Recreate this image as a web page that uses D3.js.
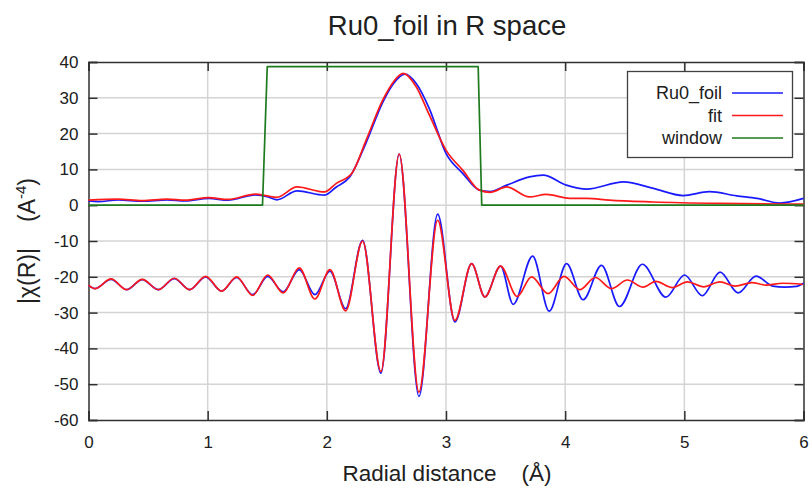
<!DOCTYPE html>
<html>
<head>
<meta charset="utf-8">
<script src="https://cdn.jsdelivr.net/npm/d3@7"></script>
<style>
  html, body { margin: 0; padding: 0; background: #fff; }
  svg { display: block; font-family: "Liberation Sans", Arial, sans-serif; }
</style>
</head>
<body>
<svg id="chart" width="812" height="488"></svg>
<script>
// ---- data ----
const xTicks = [0, 1, 2, 3, 4, 5, 6];
const yTicks = [-60, -50, -40, -30, -20, -10, 0, 10, 20, 30, 40];

// |chi(R)| of the data (Ru0_foil)
const dataMagR = [0.00,0.08,0.25,0.45,0.66,0.81,1.01,1.17,1.40,1.50,1.58,1.75,1.98,2.08,2.19,2.33,2.47,2.56,2.655,2.75,2.86,3.00,3.14,3.28,3.37,3.51,3.70,3.815,4.01,4.18,4.49,4.74,4.99,5.21,5.44,5.61,5.80,6.00];
const dataMagY = [1.2,1.0,1.5,1.1,1.5,1.2,1.9,1.4,2.9,2.4,1.5,4.0,2.8,5.1,7.8,17.5,28.8,34.0,36.6,34.0,27.0,14.5,8.9,4.2,3.8,5.6,7.9,8.4,5.6,4.5,6.5,4.7,2.7,3.8,2.6,1.9,0.6,1.9];

// |chi(R)| of the fit
const fitMagR = [0.00,0.25,0.45,0.66,0.81,1.01,1.17,1.40,1.50,1.58,1.75,1.98,2.08,2.21,2.33,2.47,2.56,2.64,2.75,2.86,3.00,3.14,3.28,3.37,3.51,3.70,3.84,4.04,4.18,4.37,4.74,5.30,6.00];
const fitMagY = [1.4,1.7,1.3,1.7,1.4,2.1,1.6,3.1,2.6,2.2,5.1,3.7,6.1,8.9,18.2,29.4,34.5,36.8,33.1,25.2,15.4,9.8,4.2,3.6,5.1,2.3,3.0,1.9,1.9,1.4,0.9,0.5,0.3];

// Re[chi(R)] of the data, offset
const dataReR = [0.00,0.055,0.189,0.320,0.451,0.586,0.720,0.849,0.983,1.117,1.243,1.378,1.503,1.634,1.768,1.900,2.026,2.158,2.300,2.454,2.607,2.773,2.930,3.075,3.215,3.326,3.458,3.564,3.727,3.866,4.012,4.151,4.305,4.456,4.648,4.845,5.002,5.151,5.300,5.451,5.602,5.742,5.843,5.941,6.00];
const dataReY = [-22.4,-23.3,-20.7,-23.6,-20.8,-23.6,-20.5,-23.6,-20.0,-24.0,-20.2,-25.0,-19.9,-24.2,-18.0,-25.0,-18.4,-28.9,-9.8,-46.9,14.3,-53.4,-2.5,-32.6,-16.3,-25.6,-17.0,-27.7,-14.2,-29.6,-16.3,-26.4,-16.8,-28.3,-16.5,-25.7,-19.5,-25.3,-18.7,-24.5,-19.8,-22.6,-22.9,-22.7,-21.8];

// Re[chi(R)] of the fit, offset
const fitReR = [0.00,0.055,0.189,0.320,0.451,0.586,0.720,0.849,0.983,1.117,1.243,1.378,1.503,1.634,1.768,1.900,2.026,2.158,2.300,2.454,2.607,2.773,2.930,3.075,3.215,3.326,3.458,3.597,3.718,3.857,3.991,4.123,4.253,4.389,4.522,4.654,4.761,4.899,5.025,5.163,5.298,5.428,5.566,5.684,5.826,5.994];
const fitReY = [-22.3,-23.3,-20.6,-23.6,-20.7,-23.6,-20.4,-23.6,-19.9,-24.0,-20.0,-25.2,-19.5,-24.5,-17.5,-26.2,-18.0,-29.5,-10.0,-46.5,14.3,-52.2,-4.2,-32.2,-16.3,-25.6,-17.0,-25.5,-20.0,-24.7,-19.9,-23.6,-20.2,-23.3,-20.9,-22.9,-21.3,-23.0,-21.4,-22.8,-21.4,-22.6,-21.6,-22.3,-21.8,-22.1];

// Fourier window
const windowR = [0.00, 1.46, 1.50, 3.27, 3.30, 6.00];
const windowY = [0, 0, 38.7, 38.7, 0, 0];

const seriesNames = ["Ru0_foil", "fit", "window"];
const seriesColors = ["#1a1aff", "#ff1a1a", "#1e7a1e"];

// ---- layout ----
const svg = d3.select("#chart");
const L = 88.5, R = 803.5, T = 62, B = 420;
const x = d3.scaleLinear().domain([0, 6]).range([L, R]);
const y = d3.scaleLinear().domain([-60, 40]).range([B, T]);

// grid
const grid = svg.append("g").attr("stroke", "#d4d4d4").attr("stroke-width", 1.5);
xTicks.slice(1, -1).forEach(t => grid.append("line").attr("x1", x(t)).attr("x2", x(t)).attr("y1", T).attr("y2", B));
yTicks.slice(1, -1).forEach(t => grid.append("line").attr("x1", L).attr("x2", R).attr("y1", y(t)).attr("y2", y(t)));

// axes (ticks pointing inward)
const tickLen = 9;
const fmt = d => String(d);
const axB = svg.append("g").attr("transform", `translate(0,${B})`)
  .call(d3.axisBottom(x).tickValues(xTicks).tickSize(-tickLen).tickPadding(16).tickFormat(fmt));
const axT = svg.append("g").attr("transform", `translate(0,${T})`)
  .call(d3.axisTop(x).tickValues(xTicks).tickSize(-tickLen).tickFormat(""));
const axL = svg.append("g").attr("transform", `translate(${L},0)`)
  .call(d3.axisLeft(y).tickValues(yTicks).tickSize(-tickLen).tickPadding(10).tickFormat(fmt));
const axR = svg.append("g").attr("transform", `translate(${R},0)`)
  .call(d3.axisRight(y).tickValues(yTicks).tickSize(-tickLen).tickFormat(""));
[axB, axT, axL, axR].forEach(a => {
  a.select(".domain").attr("stroke", "#303030").attr("stroke-width", 1.5);
  a.selectAll(".tick line").attr("stroke", "#303030").attr("stroke-width", 1.5);
  a.selectAll(".tick text").attr("fill", "#202020").style("font-size", "17px")
    .style("font-family", "'Liberation Sans', Arial, sans-serif");
});

// lines
const mkLine = (curve) => d3.line().x(d => x(d[0])).y(d => y(d[1])).curve(curve);
const zip = (a, b) => a.map((v, i) => [v, b[i]]);
const plot = svg.append("g").attr("fill", "none").attr("stroke-width", 1.7).attr("stroke-linejoin", "round");
plot.append("path").attr("d", mkLine(d3.curveMonotoneX)(zip(dataMagR, dataMagY))).attr("stroke", seriesColors[0]);
plot.append("path").attr("d", mkLine(d3.curveMonotoneX)(zip(dataReR, dataReY))).attr("stroke", seriesColors[0]);
plot.append("path").attr("d", mkLine(d3.curveMonotoneX)(zip(fitMagR, fitMagY))).attr("stroke", seriesColors[1]);
plot.append("path").attr("d", mkLine(d3.curveMonotoneX)(zip(fitReR, fitReY))).attr("stroke", seriesColors[1]);
plot.append("path").attr("d", mkLine(d3.curveLinear)(zip(windowR, windowY))).attr("stroke", seriesColors[2]);

// legend
const lg = svg.append("g");
lg.append("rect").attr("x", 627.5).attr("y", 71.5).attr("width", 165).attr("height", 86)
  .attr("fill", "#fff").attr("stroke", "#404040").attr("stroke-width", 1.3);
seriesNames.forEach((n, i) => {
  const yy = 93 + i * 22.5;
  lg.append("text").attr("x", 722).attr("y", yy).attr("dy", "0.35em").attr("text-anchor", "end")
    .attr("fill", "#202020").style("font-size", "18px").text(n);
  lg.append("line").attr("x1", 732).attr("x2", 783).attr("y1", yy).attr("y2", yy)
    .attr("stroke", seriesColors[i]).attr("stroke-width", 1.7);
});

// title and axis labels
svg.append("text").attr("x", 447).attr("y", 35).attr("text-anchor", "middle")
  .attr("fill", "#202020").style("font-size", "27.5px").text("Ru0_foil in R space");
svg.append("text").attr("x", 447).attr("y", 481).attr("text-anchor", "middle")
  .attr("fill", "#202020").style("font-size", "22.5px").attr("xml:space", "preserve")
  .text("Radial distance    (Å)");
const yl = svg.append("text").attr("transform", "translate(35,241) rotate(-90)")
  .attr("text-anchor", "middle").attr("fill", "#202020").style("font-size", "23px");
yl.append("tspan").text("|χ(R)|");
yl.append("tspan").attr("dx", 26).text("(A");
yl.append("tspan").attr("dy", -9).style("font-size", "15px").text("-4");
yl.append("tspan").attr("dy", 9).text(")");
</script>
</body>
</html>
